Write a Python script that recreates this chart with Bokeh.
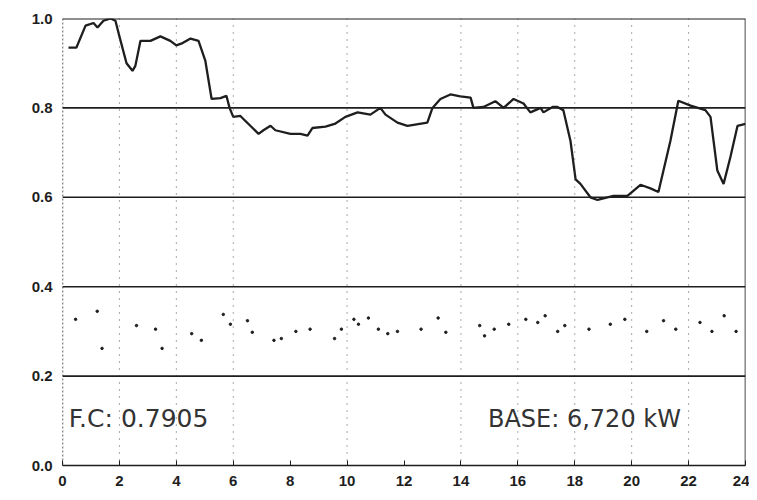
from bokeh.plotting import figure
from bokeh.models import Span, FixedTicker, Label, CustomJSTickFormatter
from bokeh.embed import file_html
from bokeh.resources import INLINE

# Load curve (hour, per-unit load)
hours = [0.21, 0.49, 0.81, 1.09, 1.23, 1.44, 1.69, 1.86, 2.0, 2.25, 2.46, 2.56, 2.74, 3.09,
         3.44, 3.79, 4.0, 4.22, 4.5, 4.78, 5.02, 5.24, 5.55, 5.76, 5.87, 6.0, 6.25, 6.6,
         6.89, 7.06, 7.31, 7.48, 8.01, 8.36, 8.61, 8.78, 9.24, 9.59, 9.94, 10.37, 10.82,
         11.17, 11.35, 11.77, 12.12, 12.82, 13.0, 13.28, 13.63, 13.98, 14.34, 14.44, 14.79,
         15.21, 15.5, 15.85, 16.2, 16.44, 16.8, 16.9, 17.22, 17.39, 17.6, 17.85, 18.03,
         18.2, 18.55, 18.8, 19.36, 19.85, 20.31, 20.66, 20.94, 21.36, 21.64, 22.07, 22.59,
         22.77, 23.01, 23.23, 23.47, 23.72, 24.0]
load = [0.935, 0.935, 0.984, 0.99, 0.98, 0.995, 1.0, 0.995, 0.96, 0.90, 0.883, 0.894, 0.95, 0.95,
        0.96, 0.95, 0.94, 0.945, 0.955, 0.95, 0.905, 0.82, 0.822, 0.827, 0.80, 0.78, 0.782, 0.76,
        0.742, 0.75, 0.76, 0.75, 0.742, 0.742, 0.738, 0.755, 0.758, 0.765, 0.78, 0.79, 0.785,
        0.80, 0.785, 0.767, 0.76, 0.767, 0.80, 0.82, 0.83, 0.826, 0.823, 0.80, 0.802,
        0.815, 0.80, 0.82, 0.81, 0.79, 0.80, 0.79, 0.802, 0.802, 0.795, 0.726, 0.64,
        0.63, 0.60, 0.594, 0.603, 0.603, 0.628, 0.62, 0.612, 0.726, 0.816, 0.805, 0.795,
        0.78, 0.66, 0.63, 0.69, 0.76, 0.764]

# Scattered dotted trace in the lower band
dot_hours = [0.46, 1.22, 1.39, 2.6, 3.27, 3.5, 4.54, 4.88, 5.65, 5.9, 6.5, 6.67, 7.43, 7.69,
             8.2, 8.7, 9.56, 9.8, 10.24, 10.4, 10.75, 11.1, 11.43, 11.77, 12.6, 13.2, 13.47,
             14.66, 14.83, 15.17, 15.68, 16.28, 16.7, 16.96, 17.4, 17.65, 18.5, 19.25, 19.76,
             20.53, 21.12, 21.55, 22.4, 22.82, 23.25, 23.67]
dot_vals = [0.327, 0.345, 0.262, 0.313, 0.305, 0.262, 0.295, 0.28, 0.338, 0.316, 0.324, 0.298,
            0.28, 0.284, 0.30, 0.305, 0.284, 0.305, 0.327, 0.316, 0.33, 0.305, 0.295, 0.30,
            0.305, 0.33, 0.298, 0.313, 0.29, 0.305, 0.316, 0.327, 0.32, 0.335, 0.30, 0.313,
            0.305, 0.316, 0.327, 0.30, 0.324, 0.305, 0.32, 0.30, 0.335, 0.30]

x_ticks = [0, 2, 4, 6, 8, 10, 12, 14, 16, 18, 20, 22, 24]
y_ticks = [0.0, 0.2, 0.4, 0.6, 0.8, 1.0]
grid_y = [0.2, 0.4, 0.6, 0.8]
grid_x = [2, 4, 6, 10, 14, 16, 18, 20, 22]

fc_text = "F.C: 0.7905"
base_text = "BASE: 6,720 kW"

INK = "#1e1e1e"

p = figure(width=749, height=492, x_range=(0, 24), y_range=(0, 1.0),
           output_backend="svg", toolbar_location=None,
           min_border_left=62, min_border_right=4, min_border_top=18, min_border_bottom=27)
p.background_fill_color = "white"
p.border_fill_color = "white"
p.outline_line_color = None
p.xgrid.visible = False
p.ygrid.visible = False

for gx in grid_x:
    p.add_layout(Span(location=gx, dimension="height", line_color="#555555",
                      line_width=1, line_dash="1 6"))
for gy in grid_y:
    p.add_layout(Span(location=gy, dimension="width", line_color=INK, line_width=1.6))
p.add_layout(Span(location=1.0, dimension="width", line_color=INK, line_width=2))
p.add_layout(Span(location=24, dimension="height", line_color=INK, line_width=1.6))
p.add_layout(Span(location=0, dimension="height", line_color=INK, line_width=1.4, line_dash="2 2"))

p.scatter(dot_hours, dot_vals, size=2.5, color=INK, marker="circle")
p.line(hours, load, line_color=INK, line_width=2.3)

p.add_layout(Label(x=0.22, y=0.072, text=fc_text, text_font="DejaVu Sans",
                   text_font_size="25px", text_color="#333333"))
p.add_layout(Label(x=14.95, y=0.072, text=base_text, text_font="DejaVu Sans",
                   text_font_size="24px", text_color="#333333"))

p.xaxis.ticker = FixedTicker(ticks=x_ticks)
p.yaxis.ticker = FixedTicker(ticks=y_ticks)
p.yaxis.formatter = CustomJSTickFormatter(code="return tick.toFixed(1);")
for ax in (p.xaxis, p.yaxis):
    ax.major_label_text_font = "Liberation Sans"
    ax.major_label_text_font_size = "15px"
    ax.major_label_text_font_style = "bold"
    ax.major_label_text_color = INK
    ax.minor_tick_line_color = None
    ax.major_tick_out = 0
p.xaxis.major_tick_in = 5
p.xaxis.major_tick_line_color = INK
p.xaxis.axis_line_color = INK
p.xaxis.axis_line_width = 1.6
p.xaxis.major_label_standoff = 10
p.yaxis.axis_line_color = None
p.yaxis.major_tick_line_color = None
p.yaxis.major_label_standoff = 10

open("out.html", "w").write(file_html(p, INLINE))
